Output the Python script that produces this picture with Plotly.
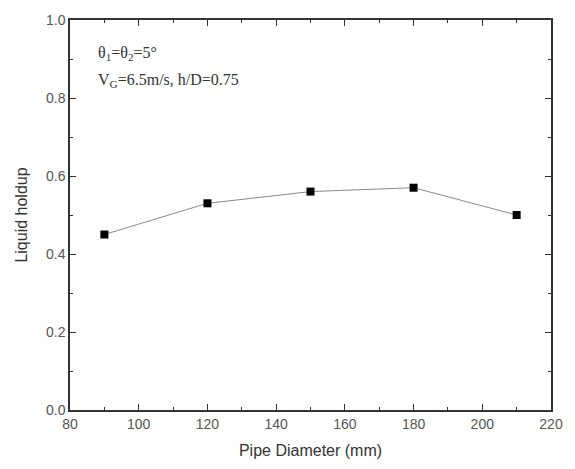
import plotly.graph_objects as go

diameter = [90, 120, 150, 180, 210]
holdup = [0.45, 0.53, 0.56, 0.57, 0.50]

fig = go.Figure()
fig.add_trace(go.Scatter(
    x=diameter, y=holdup, mode="lines+markers",
    line=dict(color="#8a8a8a", width=1),
    marker=dict(symbol="square", size=8, color="black"),
    showlegend=False,
))

axis_common = dict(
    showline=True, linecolor="#333333", linewidth=1.5, mirror="ticks",
    ticks="inside", ticklen=6, tickcolor="#333333", showgrid=False, zeroline=False,
    tickfont=dict(family="Liberation Sans, Arial", size=14, color="#555555"),
)

fig.update_xaxes(range=[80, 220], dtick=20,
                 minor=dict(ticks="inside", ticklen=3, tickcolor="#333333", dtick=10),
                 title=dict(text="Pipe Diameter (mm)", font=dict(family="Liberation Sans, Arial", size=16, color="#333333"), standoff=14),
                 **axis_common)
fig.update_yaxes(range=[0, 1.0], dtick=0.2, tickformat=".1f",
                 minor=dict(ticks="inside", ticklen=3, tickcolor="#333333", dtick=0.1),
                 title=dict(text="Liquid holdup", font=dict(family="Liberation Sans, Arial", size=16, color="#333333"), standoff=14),
                 **axis_common)

fig.add_annotation(xref="paper", yref="paper", x=0.055, y=0.915, xanchor="left", yanchor="middle",
                   text="θ<sub>1</sub>=θ<sub>2</sub>=5°", showarrow=False,
                   font=dict(family="Liberation Serif, Times New Roman", size=16, color="#333333"))
fig.add_annotation(xref="paper", yref="paper", x=0.055, y=0.845, xanchor="left", yanchor="middle",
                   text="V<sub>G</sub>=6.5m/s, h/D=0.75", showarrow=False,
                   font=dict(family="Liberation Serif, Times New Roman", size=16, color="#333333"))

fig.update_layout(width=575, height=469, margin=dict(l=70, r=19, t=16, b=57),
                  plot_bgcolor="white", paper_bgcolor="white")

fig.write_html("out.html")
